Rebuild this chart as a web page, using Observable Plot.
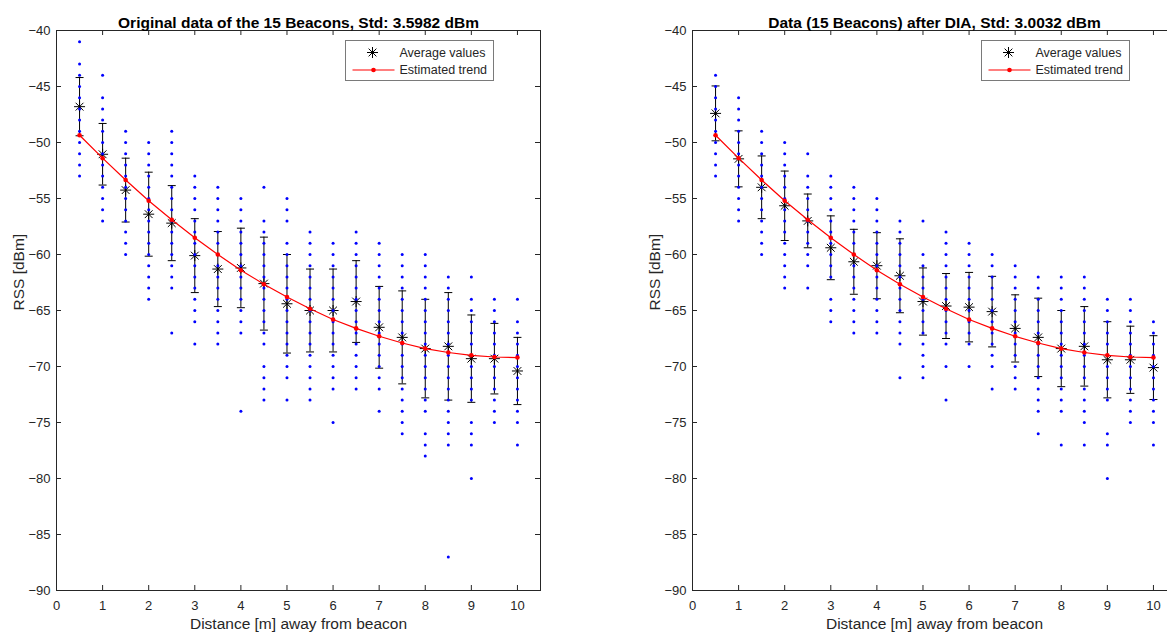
<!DOCTYPE html>
<html>
<head>
<meta charset="utf-8">
<script src="https://cdn.jsdelivr.net/npm/d3@7"></script>
<script src="https://cdn.jsdelivr.net/npm/@observablehq/plot@0.6"></script>
<style>
  html, body { margin: 0; padding: 0; background: #fff; overflow: hidden; }
  #chart { position: relative; width: 1167px; height: 639px; overflow: hidden; background: #fff; }
  #chart svg { position: absolute; top: 0; }
</style>
</head>
<body>
<div id="chart"></div>
<script>
// Measurement distances from the beacon (m) and axis ticks
const distances = [0.5, 1, 1.5, 2, 2.5, 3, 3.5, 4, 4.5, 5, 5.5, 6, 6.5, 7, 7.5, 8, 8.5, 9, 9.5, 10];
const xTicks = [0, 1, 2, 3, 4, 5, 6, 7, 8, 9, 10];
const yTicks = [-90, -85, -80, -75, -70, -65, -60, -55, -50, -45, -40];

// RSS levels (dBm) recorded at each distance, original data
const originalLevels = [
  [-41, -43, -44, -45, -46, -47, -48, -49, -50, -51, -52, -53],
  [-44, -46, -47, -48, -49, -50, -51, -52, -53, -54, -55, -56, -57],
  [-49, -50, -51, -52, -53, -54, -55, -56, -57, -58, -59, -60],
  [-50, -51, -52, -53, -54, -55, -56, -57, -58, -59, -60, -61, -62, -63, -64],
  [-49, -50, -51, -52, -53, -54, -55, -56, -57, -58, -59, -60, -61, -62, -63, -67],
  [-53, -54, -55, -56, -57, -58, -59, -60, -61, -62, -63, -64, -65, -66, -68],
  [-54, -55, -56, -57, -58, -59, -60, -61, -62, -63, -64, -65, -66, -67, -68],
  [-55, -56, -57, -58, -59, -60, -61, -62, -63, -64, -65, -66, -67, -74],
  [-54, -57, -58, -59, -60, -61, -62, -63, -64, -65, -66, -67, -68, -70, -71, -72, -73],
  [-55, -56, -57, -59, -60, -61, -62, -63, -64, -65, -66, -67, -68, -69, -70, -71, -73],
  [-58, -59, -60, -61, -62, -63, -64, -65, -66, -67, -68, -69, -70, -71, -72, -73],
  [-59, -60, -61, -62, -63, -64, -65, -66, -67, -68, -69, -70, -71, -72, -75],
  [-58, -59, -60, -61, -62, -63, -64, -65, -66, -67, -68, -69, -70, -71, -72],
  [-59, -60, -61, -62, -63, -64, -65, -66, -67, -68, -69, -70, -71, -72, -74],
  [-60, -61, -62, -63, -64, -65, -66, -67, -68, -69, -70, -71, -72, -73, -74, -75, -76],
  [-60, -61, -62, -63, -64, -65, -66, -67, -68, -69, -70, -71, -72, -73, -74, -76, -77, -78],
  [-62, -63, -64, -65, -66, -67, -68, -69, -70, -71, -72, -73, -74, -75, -76, -77, -87],
  [-62, -64, -65, -66, -67, -68, -69, -70, -71, -72, -73, -75, -76, -77, -80],
  [-64, -65, -66, -67, -68, -69, -70, -71, -72, -73, -74, -75],
  [-64, -66, -67, -68, -69, -70, -71, -72, -73, -74, -75, -77]
];
const originalMean = [-46.8, -51.05, -54.25, -56.4, -57.2, -60.1, -61.3, -61.2, -62.6, -64.4,
                      -65.0, -65.0, -64.2, -66.5, -67.4, -68.4, -68.2, -69.3, -69.3, -70.4];
const originalStd = [2.6, 2.75, 2.85, 3.75, 3.35, 3.3, 3.35, 3.55, 4.15, 4.4,
                     3.7, 3.7, 3.65, 3.65, 4.15, 4.4, 4.8, 3.9, 3.15, 3.0];

// RSS levels (dBm) at each distance after DIA
const diaLevels = [
  [-44, -45, -46, -47, -48, -49, -50, -51, -52, -53],
  [-46, -47, -48, -49, -50, -51, -52, -53, -54, -55, -56, -57],
  [-49, -50, -51, -52, -53, -54, -55, -56, -57, -58, -59, -60],
  [-50, -51, -52, -53, -54, -55, -56, -57, -58, -59, -60, -61, -62, -63],
  [-51, -53, -54, -55, -56, -57, -58, -59, -60, -61, -63],
  [-53, -54, -55, -56, -57, -58, -59, -60, -61, -62, -64, -65, -66],
  [-54, -55, -56, -57, -58, -59, -60, -61, -62, -63, -64, -65, -66, -67],
  [-55, -56, -57, -58, -59, -60, -61, -62, -63, -64, -65, -66, -67],
  [-57, -58, -59, -60, -61, -62, -63, -64, -65, -66, -67, -68, -71],
  [-57, -60, -61, -62, -63, -64, -65, -66, -67, -68, -69, -70, -71],
  [-58, -59, -60, -61, -62, -63, -64, -65, -66, -67, -68, -70, -73],
  [-59, -60, -61, -62, -63, -64, -65, -66, -67, -68, -70],
  [-60, -61, -62, -63, -64, -65, -66, -67, -68, -69, -70, -72],
  [-61, -62, -63, -64, -65, -66, -67, -68, -69, -70, -71, -72],
  [-62, -63, -64, -65, -66, -67, -68, -69, -70, -71, -72, -73, -74, -76],
  [-62, -63, -64, -65, -66, -67, -68, -69, -70, -71, -72, -73, -74, -77],
  [-62, -63, -64, -65, -66, -67, -68, -69, -70, -71, -72, -73, -74, -75, -77],
  [-64, -65, -66, -67, -68, -69, -70, -71, -72, -73, -76, -77, -80],
  [-64, -65, -66, -67, -68, -69, -70, -71, -72, -73, -74, -75],
  [-66, -67, -68, -69, -70, -71, -72, -73, -74, -75, -77]
];
const diaMean = [-47.4, -51.46, -54.0, -55.65, -57.0, -59.4, -60.65, -61.0, -61.9, -64.2,
                 -64.6, -64.7, -65.1, -66.6, -67.4, -68.4, -68.2, -69.4, -69.4, -70.1];
const diaStd = [2.45, 2.5, 2.8, 3.1, 2.4, 2.85, 2.9, 2.95, 3.3, 3.0,
                2.9, 3.1, 3.15, 3.0, 3.5, 3.4, 3.55, 3.4, 3.0, 2.85];

// Estimated path-loss trend (dBm)
const trend = [-49.35, -51.4, -53.35, -55.2, -56.9, -58.5, -60.0, -61.4, -62.65, -63.8,
               -64.85, -65.8, -66.6, -67.3, -67.9, -68.4, -68.75, -69.0, -69.15, -69.2];

const titles = ["Original data of the 15 Beacons, Std: 3.5982 dBm",
                "Data (15 Beacons) after DIA, Std: 3.0032 dBm"];
const xLabel = "Distance [m] away from beacon";
const yLabel = "RSS [dBm]";
const legendLabels = ["Average values", "Estimated trend"];

// Layout
const W = 560, H = 639, ML = 56, MR = 20, MT = 30, MB = 49;
const FW = W - ML - MR, FH = H - MT - MB;
const FONT = "'Liberation Sans', Arial, Helvetica, sans-serif";
const AXIS = "#262626";

// Eight-armed asterisk marker and a horizontal error-bar cap
const asterisk = {
  draw(ctx, size) {
    const r = Math.sqrt(size / Math.PI), b = r * Math.SQRT1_2;
    ctx.moveTo(-r, 0); ctx.lineTo(r, 0);
    ctx.moveTo(0, -r); ctx.lineTo(0, r);
    ctx.moveTo(-b, -b); ctx.lineTo(b, b);
    ctx.moveTo(-b, b); ctx.lineTo(b, -b);
  }
};
const cap = {
  draw(ctx, size) {
    const r = Math.sqrt(size / Math.PI);
    ctx.moveTo(-r, 0); ctx.lineTo(r, 0);
  }
};

function panel(title, levels, mean, std) {
  const samples = distances.flatMap((d, i) => levels[i].map(v => ({d, v})));
  const stats = distances.map((d, i) => ({d, mean: mean[i], lo: mean[i] - std[i], hi: mean[i] + std[i], trend: trend[i]}));

  const svg = Plot.plot({
    width: W, height: H,
    marginLeft: ML, marginRight: MR, marginTop: MT, marginBottom: MB,
    style: {fontFamily: FONT, fontSize: "13px", color: AXIS, background: "transparent", overflow: "visible"},
    x: {domain: [0, 10.5]},
    y: {domain: [-90, -40]},
    marks: [
      // tick labels
      Plot.axisX(xTicks, {tickSize: 0, tickPadding: 10, fontSize: 13, label: null, fill: AXIS}),
      Plot.axisY(yTicks, {tickSize: 0, tickPadding: 6, fontSize: 13, label: null, fill: AXIS}),
      // inward tick marks on all four sides
      Plot.tickX(xTicks, {x: d => d, insetTop: FH - 5, stroke: AXIS}),
      Plot.tickX(xTicks, {x: d => d, insetBottom: FH - 5, stroke: AXIS}),
      Plot.tickY(yTicks, {y: d => d, insetRight: FW - 5, stroke: AXIS}),
      Plot.tickY(yTicks, {y: d => d, insetLeft: FW - 5, stroke: AXIS}),
      // error bars: mean ± std
      Plot.ruleX(stats, {x: "d", y1: "lo", y2: "hi", stroke: "black", strokeWidth: 1}),
      Plot.dot(stats, {x: "d", y: "lo", symbol: cap, r: 4, stroke: "black", fill: "none", strokeWidth: 1}),
      Plot.dot(stats, {x: "d", y: "hi", symbol: cap, r: 4, stroke: "black", fill: "none", strokeWidth: 1}),
      // averages
      Plot.dot(stats, {x: "d", y: "mean", symbol: asterisk, r: 5.5, stroke: "black", fill: "none", strokeWidth: 1}),
      // individual RSS samples
      Plot.dot(samples, {x: "d", y: "v", r: 1.5, fill: "#0000ff", stroke: "none"}),
      // estimated trend
      Plot.line(stats, {x: "d", y: "trend", stroke: "#ff0000", strokeWidth: 1.2}),
      Plot.dot(stats, {x: "d", y: "trend", r: 2.3, fill: "#ff0000", stroke: "none"}),
      // frame
      Plot.frame({stroke: AXIS, strokeWidth: 1}),
      // titles and axis labels
      Plot.text([title], {text: d => d, frameAnchor: "top", dy: -14, fontSize: 15.5, fontWeight: "bold", fill: "black"}),
      Plot.text([xLabel], {text: d => d, frameAnchor: "bottom", dy: 38, fontSize: 15.5, fill: AXIS}),
      Plot.text([yLabel], {text: d => d, frameAnchor: "left", dx: -37, rotate: -90, fontSize: 15.5, fill: AXIS})
    ]
  });

  // legend box in the upper right of the axes
  const g = d3.select(svg).append("g")
    .attr("transform", `translate(${ML + 289.5},${40.5})`)
    .attr("font-family", FONT).attr("font-size", 12.5).attr("fill", AXIS)
    .attr("text-anchor", "start");
  g.append("rect").attr("width", 148).attr("height", 40)
    .attr("fill", "white").attr("stroke", "#7a7a7a").attr("stroke-width", 1);
  const sx = 27, sy = 12, sr = 5.5, sb = sr * Math.SQRT1_2;
  g.append("path")
    .attr("d", `M${sx - sr},${sy}H${sx + sr}M${sx},${sy - sr}V${sy + sr}M${sx - sb},${sy - sb}L${sx + sb},${sy + sb}M${sx - sb},${sy + sb}L${sx + sb},${sy - sb}`)
    .attr("stroke", "black").attr("fill", "none");
  g.append("line").attr("x1", 7).attr("x2", 49).attr("y1", 29.5).attr("y2", 29.5)
    .attr("stroke", "#ff0000").attr("stroke-width", 1.2);
  g.append("circle").attr("cx", 28).attr("cy", 29.5).attr("r", 2.3).attr("fill", "#ff0000");
  g.append("text").attr("x", 54).attr("y", 12.5).attr("dy", "0.35em").attr("text-anchor", "start").text(legendLabels[0]);
  g.append("text").attr("x", 54).attr("y", 29.5).attr("dy", "0.35em").attr("text-anchor", "start").text(legendLabels[1]);
  return svg;
}

const chart = document.getElementById("chart");
const left = panel(titles[0], originalLevels, originalMean, originalStd);
left.style.left = "0px";
chart.appendChild(left);
const right = panel(titles[1], diaLevels, diaMean, diaStd);
right.style.left = "636px";
chart.appendChild(right);
</script>
</body>
</html>
